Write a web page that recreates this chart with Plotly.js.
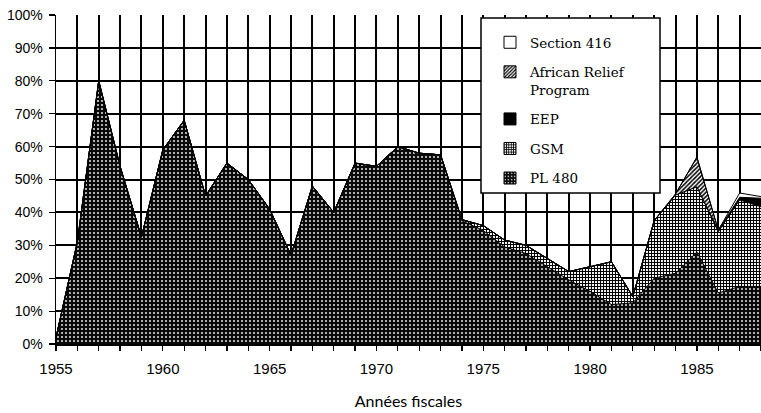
<!DOCTYPE html>
<html>
<head>
<meta charset="utf-8">
<script src="https://cdn.plot.ly/plotly-3.0.1.min.js"></script>
<style>
html,body{margin:0;padding:0;background:#fff;}
#chart{width:761px;height:413px;}
</style>
</head>
<body>
<div id="chart"></div>
<script>
const years = [1955,1956,1957,1958,1959,1960,1961,1962,1963,1964,1965,1966,1967,1968,1969,1970,1971,1972,1973,1974,1975,1976,1977,1978,1979,1980,1981,1982,1983,1984,1985,1986,1987,1988];
const pl480 = [2,31,80,54,32.5,59,68,45,55,50,41,27,48,40,55,54,60,58,57.5,37.5,34.5,29.5,27.5,23.5,19.5,16,12,12.5,20,21.5,28,15.5,17.5,17.5];
const gsm   = [0,0,0,0,0,0,0,0,0,0,0,0,0,0,0,0,0,0,0,0.3,1.5,2.1,2.5,2.5,2.5,7.5,13,1.9,17.5,23.8,19.8,18.6,26.3,24.2];
const eep   = [0,0,0,0,0,0,0,0,0,0,0,0,0,0,0,0,0,0,0,0,0,0,0,0,0,0,0,0,0,0,0,0.5,0.8,2.6];
const arp   = [0,0,0,0,0,0,0,0,0,0,0,0,0,0,0,0,0,0,0,0,0,0,0,0,0,0,0,0,0,0.3,9,0,0,0];
const s416  = [0,0,0,0,0,0,0,0,0,0,0,0,0,0,0,0,0,0,0,0,0,0,0,0,0,0,0,0,0,0,0,0,1.3,0.5];
const seriesNames = ['PL 480','GSM','EEP','African Relief<br>Program','Section 416'];
const yTicks = [0,10,20,30,40,50,60,70,80,90,100];
const yTickLabels = ['0%','10%','20%','30%','40%','50%','60%','70%','80%','90%','100%'];

const styles = [
  {bg:'#0a0a0a', fg:'#ffffff', shape:'.', size:4, solidity:0.16},
  {bg:'#ffffff', fg:'#000', shape:'+', size:3, solidity:0.6},
  {bg:'#000', fg:'#000', shape:'', size:4, solidity:0.5},
  {bg:'#ffffff', fg:'#000', shape:'/', size:3, solidity:0.5},
  {bg:'#ffffff', fg:'#ffffff', shape:'', size:4, solidity:0.5}
];
const values = [pl480, gsm, eep, arp, s416];

const traces = [];
values.forEach((v,i) => {
  const st = styles[i];
  const t = {
    type:'scatter', mode:'lines', x: years, y: v, stackgroup:'one',
    name: seriesNames[i], showlegend:false,
    line:{color:'#000', width:1},
    fillcolor: st.bg
  };
  if (st.shape) t.fillpattern = {shape: st.shape, bgcolor: st.bg, fgcolor: st.fg, size: st.size, solidity: st.solidity, fillmode:'replace'};
  traces.push(t);
});
// legend entries (empty bar traces give square swatches), top to bottom: Section 416 ... PL 480
[4,3,2,1,0].forEach((i,k) => {
  const st = styles[i];
  const m = {color: st.bg, line:{color:'#000', width:1}};
  if (st.shape) m.pattern = {shape: st.shape, bgcolor: st.bg, fgcolor: st.fg, size: st.size, solidity: st.solidity, fillmode:'replace'};
  traces.push({type:'bar', x:[null], y:[null], name: seriesNames[i], marker:m, legendgroup:'g'+k, showlegend:true});
});

const layout = {
  width:761, height:413,
  margin:{l:56, r:0, t:15, b:69},
  paper_bgcolor:'#fff', plot_bgcolor:'#fff',
  font:{family:'Liberation Sans, Arial, sans-serif', color:'#000'},
  showlegend:true,
  legend:{
    x:(490-56)/705, y:1-(27-15)/329, xanchor:'left', yanchor:'top',
    bgcolor:'rgba(0,0,0,0)', borderwidth:0,
    font:{family:'DejaVu Serif, serif', size:13.5, color:'#000'},
    traceorder:'grouped', tracegroupgap:9, valign:'top'
  },
  shapes:[{type:'rect', xref:'paper', yref:'paper', x0:(481-56)/705, x1:(660-56)/705, y0:1-(193-15)/329, y1:1-(18-15)/329,
           line:{color:'#000', width:1.5}, fillcolor:'#fff', layer:'above'}],
  xaxis:{
    range:[1955,1988], tickmode:'linear', tick0:1955, dtick:5,
    ticks:'outside', ticklen:5, tickwidth:1.2, tickcolor:'#000',
    showgrid:true, gridcolor:'#000', gridwidth:2,
    minor:{dtick:1, tick0:1955, ticks:'outside', ticklen:5, tickwidth:1.2, tickcolor:'#000', showgrid:true, gridcolor:'#000', gridwidth:2},
    showline:true, linecolor:'#000', linewidth:1.5,
    zeroline:false, ticklabelstandoff:5,
    tickfont:{family:'Liberation Sans, Arial, sans-serif', size:15},
    title:{text:'Années fiscales', font:{family:'Lato, sans-serif', size:16}, standoff:20}
  },
  yaxis:{
    range:[0,100], tickmode:'array', tickvals: yTicks, ticktext: yTickLabels,
    ticks:'outside', ticklen:6, tickwidth:1.2, tickcolor:'#000',
    showgrid:true, gridcolor:'#000', gridwidth:2,
    showline:true, linecolor:'#000', linewidth:1.5,
    zeroline:false, ticklabelstandoff:3,
    tickfont:{family:'Liberation Sans, Arial, sans-serif', size:14}
  },
  hovermode:false
};
Plotly.newPlot('chart', traces, layout, {staticPlot:true, displayModeBar:false});
</script>
</body>
</html>
